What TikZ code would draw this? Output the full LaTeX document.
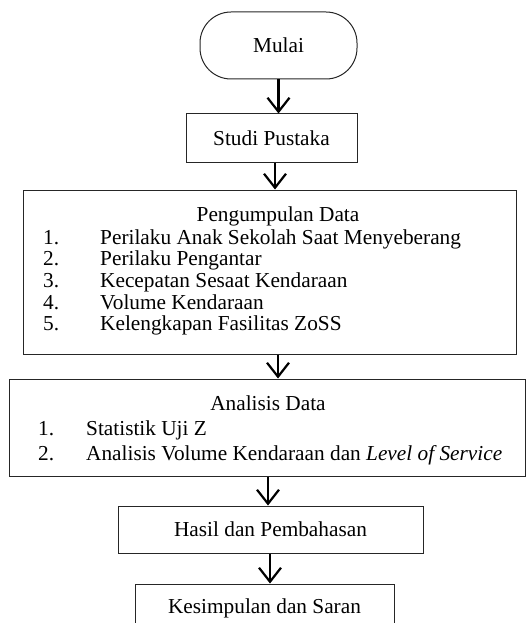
\documentclass[tikz,border=0pt]{standalone}
\usepackage{fontspec}
\setmainfont{Liberation Serif}
\usetikzlibrary{arrows.meta}
\begin{document}
\begin{tikzpicture}[x=1pt,y=-1pt,
  box/.style={draw=black!85,line width=1pt,inner sep=0pt,minimum width=#1},
  txt/.style={inner sep=0pt,anchor=base west,font=\fontsize{21.3}{24}\selectfont},
  ctxt/.style={inner sep=0pt,anchor=base,font=\fontsize{21.3}{24}\selectfont},
  arr/.style={line width=2.2pt,-{Straight Barb[length=14pt,width=22pt,line width=2.2pt]}}]
\useasboundingbox (0,0) rectangle (526,623);
\clip (0,0) rectangle (526,623);
\node[box=157pt,minimum height=67pt,rounded corners=31pt] (mulai) at (278.5,45.5) {};
\node[ctxt] (tmulai) at (278.5,53) {Mulai};
\node[box=171pt,minimum height=48pt] (studi) at (271.5,138) {};
\node[ctxt] (tstudi) at (271.5,145) {Studi Pustaka};
\node[box=493pt,minimum height=164pt] (peng) at (269.5,272) {};
\node[ctxt] (tpeng) at (278,221) {Pengumpulan Data};
\node[txt] (p1n) at (43,244) {1.};
\node[txt] (p1) at (100,244) {Perilaku Anak Sekolah Saat Menyeberang};
\node[txt] (p2n) at (43,265.7) {2.};
\node[txt] (p2) at (100,265.7) {Perilaku Pengantar};
\node[txt] (p3n) at (43,287.4) {3.};
\node[txt] (p3) at (100,287.4) {Kecepatan Sesaat Kendaraan};
\node[txt] (p4n) at (43,309.1) {4.};
\node[txt] (p4) at (100,309.1) {Volume Kendaraan};
\node[txt] (p5n) at (43,330.8) {5.};
\node[txt] (p5) at (100,330.8) {Kelengkapan Fasilitas ZoSS};
\node[box=516pt,minimum height=97pt] (anal) at (267,427.5) {};
\node[ctxt] (tanal) at (268,410) {Analisis Data};
\node[txt] (a1n) at (38,435) {1.};
\node[txt] (a1) at (86,435) {Statistik Uji Z};
\node[txt] (a2n) at (38,460) {2.};
\node[txt] (a2) at (86,460) {Analisis Volume Kendaraan dan \textit{Level of Service}};
\node[box=305pt,minimum height=47pt] (hasil) at (270.5,529.5) {};
\node[ctxt] (thasil) at (270.5,536.5) {Hasil dan Pembahasan};
\node[box=259pt,minimum height=50pt] (kes) at (264.5,609) {};
\node[ctxt] (tkes) at (264.5,613) {Kesimpulan dan Saran};
\draw[arr] (mulai.south) -- (mulai.south |- studi.north);
\draw[arr] ([xshift=3.5pt]studi.south) -- ([xshift=3.5pt]studi.south |- peng.north);
\draw[arr] ([xshift=8.5pt]peng.south) -- ([xshift=8.5pt]peng.south |- anal.north);
\draw[arr] ([xshift=1pt]anal.south) -- ([xshift=1pt]anal.south |- hasil.north);
\draw[arr] ([xshift=-0.5pt]hasil.south) -- ([xshift=-0.5pt]hasil.south |- kes.north);
\end{tikzpicture}
\end{document}
